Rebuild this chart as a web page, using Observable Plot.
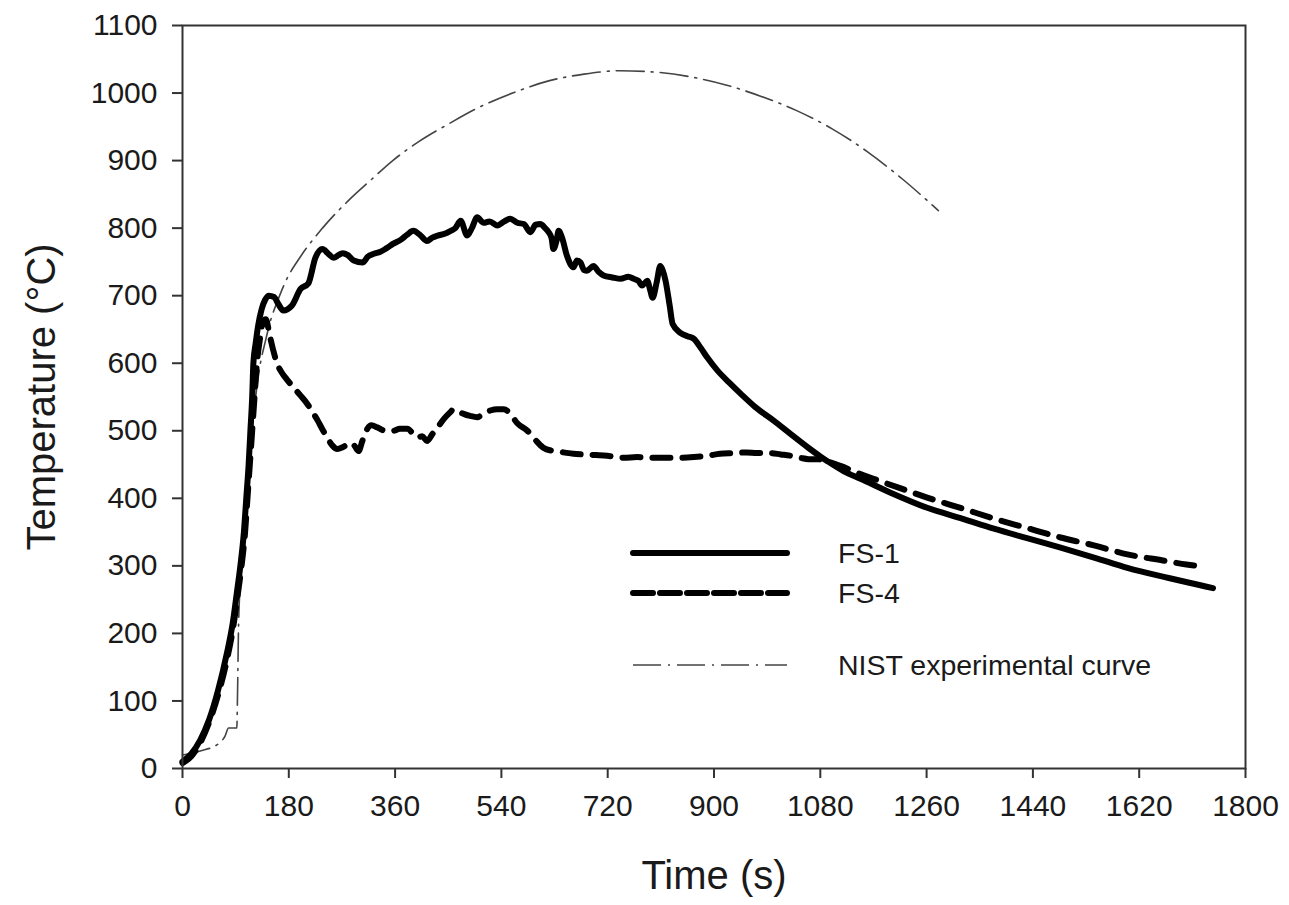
<!DOCTYPE html>
<html>
<head>
<meta charset="utf-8">
<script src="https://cdn.jsdelivr.net/npm/d3@7"></script>
<script src="https://cdn.jsdelivr.net/npm/@observablehq/plot@0.6"></script>
<style>
  html, body { margin: 0; padding: 0; background: #fff; }
  #wrap { position: relative; width: 1289px; height: 905px; }
  #legend { position: absolute; left: 0; top: 0; pointer-events: none; }
  #legend text { font-family: "Liberation Sans", Arial, sans-serif; font-size: 28.5px; fill: #1a1a1a; }
</style>
</head>
<body>
<div id="wrap"></div>
<script>
// ---- data (time s, temperature °C) ----
const xTicks = [0, 180, 360, 540, 720, 900, 1080, 1260, 1440, 1620, 1800];
const yTicks = [0, 100, 200, 300, 400, 500, 600, 700, 800, 900, 1000, 1100];

const fs1Time = [0,15,30,45,60,75,85,92,98,104,108,112,115,118,120,124,128,134,140,146,155,162,171,185,200,213,225,237,247,256,264,271,280,290,305,314,324,335,345,357,370,380,391,402,414,423,432,445,454,462,471,482,490,499,510,520,533,545,555,567,578,589,598,606,614,620,625,628,633,637,643,651,662,668,674,680,685,696,705,713,728,742,755,764,772,778,787,792,796,803,809,813,818,825,830,843,855,866,878,889,906,925,945,970,1001,1030,1058,1080,1092,1120,1148,1200,1261,1320,1374,1430,1487,1545,1600,1670,1720,1745];
const fs1Temp = [10,22,42,72,115,170,215,260,300,350,400,450,500,550,600,630,655,680,694,700,698,688,678,685,710,718,756,769,762,756,760,763,760,752,749,758,762,765,770,777,783,790,796,790,781,786,789,792,796,800,811,789,800,816,808,810,804,810,814,808,806,794,805,806,800,794,785,769,780,796,785,759,742,752,749,738,737,744,735,730,727,725,728,725,722,715,722,708,697,720,744,738,722,685,658,645,640,636,622,608,589,572,555,535,515,495,476,462,455,440,429,408,386,370,355,341,327,312,297,282,272,267];

const fs4Time = [0,15,30,45,60,75,86,94,100,106,110,114,118,122,126,131,137,141,148,154,160,166,175,188,200,212,220,229,237,245,254,262,272,284,291,298,305,313,320,330,343,357,368,381,390,398,406,414,423,432,443,454,459,468,476,487,499,510,521,533,544,555,567,584,598,611,628,645,662,679,700,719,747,770,787,815,843,866,889,910,933,955,973,995,1013,1030,1046,1060,1075,1090,1114,1148,1170,1215,1261,1320,1374,1430,1487,1545,1600,1660,1700,1730];
const fs4Temp = [8,18,38,68,108,160,210,260,300,350,400,450,500,550,600,635,663,665,640,618,600,589,578,564,552,539,528,515,502,490,478,473,476,482,478,470,486,503,508,505,500,500,503,503,496,490,492,485,495,505,518,528,532,528,525,522,520,526,530,532,532,525,511,500,486,475,470,468,466,465,464,463,460,461,460,460,460,461,463,466,467,468,467,467,465,463,460,458,458,455,448,436,429,415,401,385,370,356,342,330,317,308,302,299];

const nistTime = [0,30,60,72,78,92,93,95,100,110,120,130,141,149,160,174,200,237,280,320,356,400,450,500,559,620,680,740,800,860,920,980,1040,1100,1160,1220,1280];
const nistTemp = [20,26,36,48,60,60,100,214,300,420,520,590,635,663,690,720,758,800,840,872,900,928,954,978,1000,1018,1028,1033,1031,1024,1012,995,974,947,913,872,826];

const seriesNames = ["FS-1", "FS-4", "NIST experimental curve"];

// ---- build tables ----
const fs1 = fs1Time.map((t, i) => ({t, T: fs1Temp[i]}));
const fs4 = fs4Time.map((t, i) => ({t, T: fs4Temp[i]}));
const nist = nistTime.map((t, i) => ({t, T: nistTemp[i]}));

const font = '"Liberation Sans", Arial, sans-serif';

const chart = Plot.plot({
  width: 1289,
  height: 905,
  marginLeft: 182,
  marginRight: 44,
  marginTop: 25,
  marginBottom: 137,
  x: {domain: [0, 1800]},
  y: {domain: [0, 1100]},
  style: {fontFamily: font, fontSize: "30px", color: "#1a1a1a", background: "#fff"},
  marks: [
    Plot.axisX({ticks: xTicks, tickSize: 10, tickPadding: 16, label: null, stroke: "#333", strokeWidth: 2, fontSize: 30, tickFormat: d => String(d)}),
    Plot.axisY({ticks: yTicks, tickSize: 10, tickPadding: 15, label: null, stroke: "#333", strokeWidth: 2, fontSize: 30, tickFormat: d => String(d)}),
    Plot.line(nist, {x: "t", y: "T", stroke: "#444", strokeWidth: 1.6, strokeDasharray: "28,7,2,7", curve: "monotone-x"}),
    Plot.line(fs4, {x: "t", y: "T", stroke: "#000", strokeWidth: 6, strokeDasharray: "18,12", strokeLinecap: "round", strokeLinejoin: "round", curve: "monotone-x"}),
    Plot.line(fs1, {x: "t", y: "T", stroke: "#000", strokeWidth: 6, strokeLinejoin: "round", strokeLinecap: "round", curve: "monotone-x"}),
    Plot.frame({stroke: "#333", strokeWidth: 2}),
    Plot.text(["Time (s)"], {frameAnchor: "bottom", dy: 120, fontSize: 40, fill: "#1a1a1a", textAnchor: "middle"}),
    Plot.text(["Temperature (°C)"], {frameAnchor: "left", dx: -140, rotate: -90, fontSize: 40, fill: "#1a1a1a", textAnchor: "middle"})
  ]
});

const wrap = document.getElementById("wrap");
wrap.appendChild(chart);

// ---- legend overlay ----
const ns = "http://www.w3.org/2000/svg";
const leg = document.createElementNS(ns, "svg");
leg.setAttribute("id", "legend");
leg.setAttribute("width", 1289);
leg.setAttribute("height", 905);
const legendStyles = [
  {y: 553, stroke: "#000", width: 6, dash: null},
  {y: 593, stroke: "#000", width: 6, dash: "20,7"},
  {y: 665, stroke: "#444", width: 1.6, dash: "28,7,2,7"}
];
seriesNames.forEach((name, i) => {
  const s = legendStyles[i];
  const ln = document.createElementNS(ns, "line");
  ln.setAttribute("x1", 633); ln.setAttribute("x2", 787);
  ln.setAttribute("y1", s.y); ln.setAttribute("y2", s.y);
  ln.setAttribute("stroke", s.stroke);
  ln.setAttribute("stroke-width", s.width);
  ln.setAttribute("stroke-linecap", s.width > 3 ? "round" : "butt");
  if (s.dash) ln.setAttribute("stroke-dasharray", s.dash);
  leg.appendChild(ln);
  const tx = document.createElementNS(ns, "text");
  tx.setAttribute("x", 838);
  tx.setAttribute("y", s.y + 10);
  tx.textContent = name;
  leg.appendChild(tx);
});
wrap.appendChild(leg);
</script>
</body>
</html>
